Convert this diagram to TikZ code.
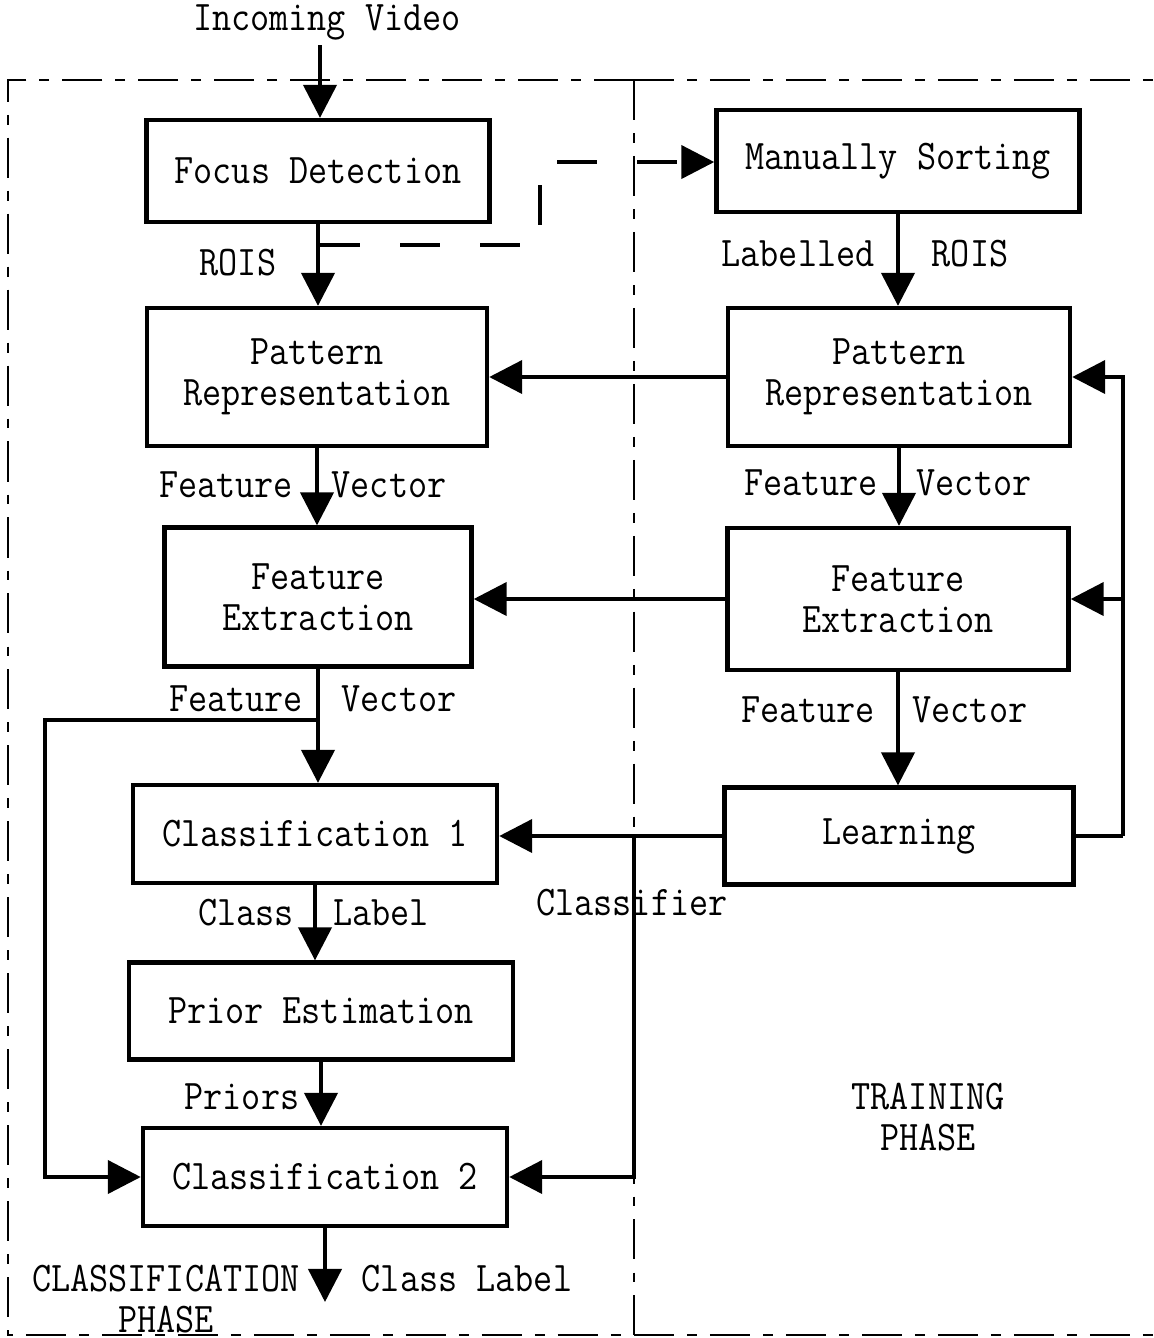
\documentclass[tikz,border=0pt]{standalone}
\usepackage{fontspec}
\setmonofont{Latin Modern Mono}[FakeStretch=0.88]
\usepackage{tikz}
\usetikzlibrary{positioning,arrows.meta}

\begin{document}
\begin{tikzpicture}[x=0.01cm,y=-0.01cm,
	font=\ttfamily\fontsize{12}{11.7}\selectfont,
	box/.style={draw,line width=1.2pt,align=center,inner sep=0pt},
	lbl/.style={inner sep=0pt,align=center},
	arr/.style={line width=1.2pt,-{Triangle[length=0.33cm,width=0.33cm]}},
	wire/.style={line width=1.2pt},
	frame/.style={line width=0.6pt,dash pattern=on 11.4pt off 3.7pt on 2.8pt off 3.7pt}]
	\useasboundingbox (0,0) rectangle (1154,1338);
	
	% 点划线分区
	\draw[frame] (634,80) -- (8,80) -- (8,1335) -- (634,1335);
	\draw[frame] (634,80) -- (1154,80);
	\draw[frame] (634,1335) -- (1154,1335);
	\draw[frame] (634,80) -- (634,1335);
	
	% 方框
	\node[box,minimum width=3.43cm,minimum height=1.02cm] (fd) at (318,171) {Focus Detection};
	\node[box,minimum width=3.63cm,minimum height=1.02cm] (ms) at (898,161) {Manually Sorting};
	\node[box,minimum width=3.40cm,minimum height=1.38cm] (prL) at (317,377) {Pattern\\Representation};
	\node[box,minimum width=3.42cm,minimum height=1.38cm] (prR) at (899,377) {Pattern\\Representation};
	\node[box,minimum width=3.07cm,minimum height=1.39cm] (feL) at (318,597) {Feature\\Extraction};
	\node[box,minimum width=3.41cm,minimum height=1.42cm] (feR) at (898,599) {Feature\\Extraction};
	\node[box,minimum width=3.64cm,minimum height=0.98cm] (cl1) at (315,834) {Classification 1};
	\node[box,minimum width=3.49cm,minimum height=0.97cm] (learn) at (899,836) {Learning};
	\node[box,minimum width=3.84cm,minimum height=0.97cm] (pe) at (321,1011) {Prior Estimation};
	\node[box,minimum width=3.64cm,minimum height=0.98cm] (cl2) at (325,1177) {Classification 2};
	
	% 文字标签
	\node[lbl] (vid) at (327,22) {Incoming Video};
	\node[lbl] (roisL) at (238,263) {ROIS};
	\node[lbl] (lab) at (798,254) {Labelled};
	\node[lbl] (roisR) at (970,254) {ROIS};
	\node[lbl] (fv1a) at (226,485) {Feature};
	\node[lbl] (fv1b) at (389,485) {Vector};
	\node[lbl] (fv2a) at (811,483) {Feature};
	\node[lbl] (fv2b) at (974,483) {Vector};
	\node[lbl] (fv3a) at (236,699) {Feature};
	\node[lbl] (fv3b) at (399,699) {Vector};
	\node[lbl] (fv4a) at (808,710) {Feature};
	\node[lbl] (fv4b) at (970,710) {Vector};
	\node[lbl] (clsf) at (632,903) {Classifier};
	\node[lbl] (cla) at (246,913) {Class};
	\node[lbl] (clb) at (381,913) {Label};
	\node[lbl] (pri) at (242,1097) {Priors};
	\node[lbl] (out) at (467,1279) {Class Label};
	\node[lbl] (cph) at (166,1299) {CLASSIFICATION\\PHASE};
	\node[lbl] (tph) at (928,1117) {TRAINING\\ PHASE};
	
	% 连接点
	\coordinate (vin) at (320,45);
	\coordinate (d1) at (320,245);
	\coordinate (d2) at (540,245);
	\coordinate (d3) at (540,162);
	\coordinate (fb) at (316,720);
	\coordinate (fbl) at (45,720);
	\coordinate (cb) at (634,836);
	\coordinate (rb) at (1123,836);
	\coordinate (end) at (325,1302);
	
	% 分类阶段箭头
	\draw[arr] (vin) -- (vin |- fd.north);
	\draw[arr] (fd.south) -- (fd.south |- prL.north);
	\draw[arr] (prL.south) -- (prL.south |- feL.north);
	\draw[arr] (feL.south) -- (feL.south |- cl1.north);
	\draw[arr] (fb) -- (fbl) |- (cl2.west);
	\draw[arr] (cl1.south) -- (cl1.south |- pe.north);
	\draw[arr] (pe.south) -- (pe.south |- cl2.north);
	\draw[arr] (cl2.south) -- (end);
	
	% 虚线到人工分类
	\draw[wire,dash pattern=on 0.4cm off 0.4cm,-{Triangle[length=0.33cm,width=0.33cm]}]
		(d1) -- (d2) -- (d3) -- (d3 -| ms.west);
	
	% 训练阶段箭头
	\draw[arr] (ms.south) -- (ms.south |- prR.north);
	\draw[arr] (prR.south) -- (prR.south |- feR.north);
	\draw[arr] (feR.south) -- (feR.south |- learn.north);
	\draw[arr] (prR.west) -- (prR.west -| prL.east);
	\draw[arr] (feR.west) -- (feR.west -| feL.east);
	\draw[arr] (learn.west) -- (learn.west -| cl1.east);
	\draw[arr] (cb) |- (cl2.east);
	\draw[wire] (learn.east) -- (rb);
	\draw[arr] (rb) |- (prR.east);
	\draw[arr] (rb |- feR.east) -- (feR.east);
\end{tikzpicture}
\end{document}
